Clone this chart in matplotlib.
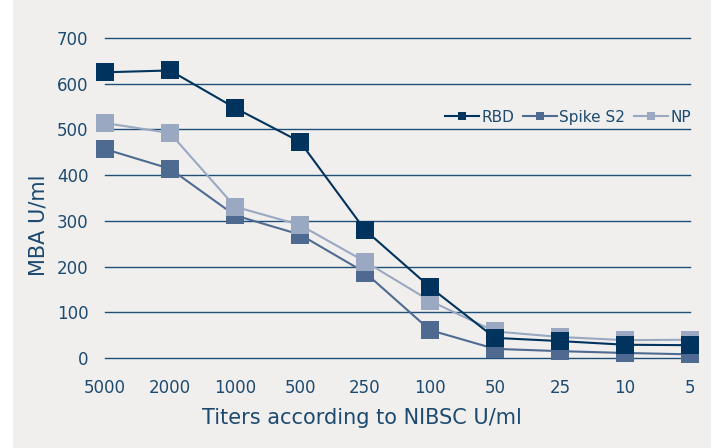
import matplotlib.pyplot as plt
from matplotlib.patches import Rectangle
from matplotlib.lines import Line2D

titers = ["5000", "2000", "1000", "500", "250", "100", "50", "25", "10", "5"]
rbd = [625, 629, 547, 473, 280, 155, 44, 37, 29, 28]
spike_s2 = [457, 414, 312, 270, 187, 61, 20, 15, 11, 8]
np_vals = [514, 492, 331, 291, 211, 125, 58, 46, 39, 40]

TEXT = "#1d4a71"
GRID = "#1f4e79"
BG = "#f0efee"

fig = plt.figure(figsize=(7.17, 4.48), dpi=100, facecolor="white")
# grey panel behind the chart
fig.patches.append(Rectangle((13 / 717, 0), 698 / 717, 1, transform=fig.transFigure,
                             facecolor=BG, edgecolor="none", zorder=-5))

ax = fig.add_axes([105 / 717, 1 - 358 / 448, 585 / 717, 320 / 448])
ax.set_facecolor("none")

x = list(range(len(titers)))
series = [("Spike S2", spike_s2, "#4f6a91"),
          ("NP", np_vals, "#9aa8c2"),
          ("RBD", rbd, "#00335e")]
for i, (name, vals, col) in enumerate(series):
    ax.plot(x, vals, color=col, lw=1.5, marker="s", markersize=13,
            markeredgewidth=0, clip_on=False, zorder=3 + i)

ax.set_xlim(0, 9)
ax.set_ylim(0, 700)
ax.set_yticks(range(0, 701, 100))
ax.set_xticks(x)
ax.set_xticklabels(titers)
ax.grid(axis="y", color=GRID, lw=1.0)
for g in ax.yaxis.get_gridlines():
    g.set_clip_on(False)
ax.set_axisbelow(True)
for s in ax.spines.values():
    s.set_visible(False)
ax.tick_params(length=0, labelsize=12, labelcolor=TEXT)
ax.tick_params(axis="y", pad=12)
ax.tick_params(axis="x", pad=15)

ax.set_ylabel("MBA U/ml", fontsize=15, color=TEXT)
ax.yaxis.set_label_coords(-0.096, 0.416)
ax.set_xlabel("Titers according to NIBSC U/ml", fontsize=15, color=TEXT)
ax.xaxis.set_label_coords(0.439, -0.156)

leg_h = [Line2D([], [], color=c, lw=1.5, marker="s", markersize=6, markeredgewidth=0)
         for c in ["#00335e", "#4f6a91", "#9aa8c2"]]
leg = ax.legend(leg_h, ["RBD", "Spike S2", "NP"], loc="center right",
                bbox_to_anchor=(1.025, 527 / 700), ncol=3, frameon=False,
                fontsize=11, handlelength=2.2, handletextpad=0.15, columnspacing=0.6)
for t in leg.get_texts():
    t.set_color(TEXT)

fig.savefig("out.png", dpi=100, facecolor="white")
